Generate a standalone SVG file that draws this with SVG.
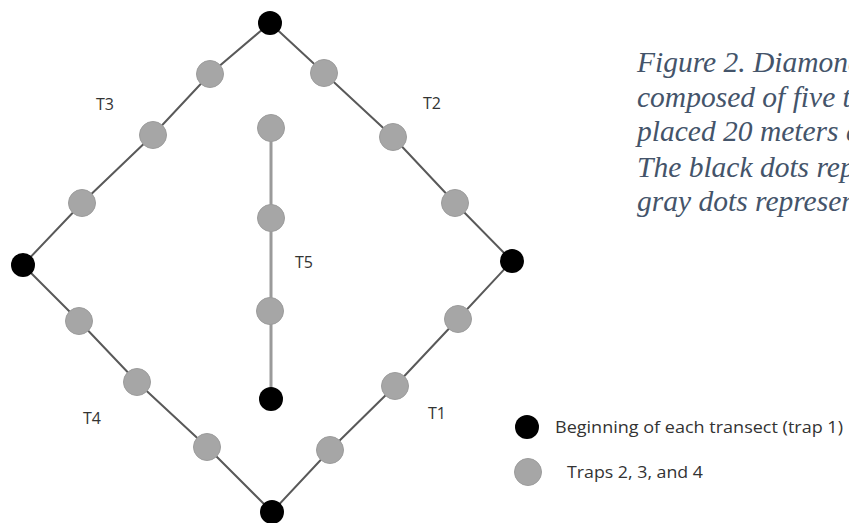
<svg xmlns="http://www.w3.org/2000/svg" width="849" height="523" viewBox="0 0 849 523">
  <style>
    .edge { stroke: #595959; stroke-width: 2; fill: none; }
    .edge5 { stroke: #9a9a9a; stroke-width: 3; fill: none; }
    .start { fill: #000000; }
    .trap { fill: #a6a6a6; stroke: #9c9c9c; stroke-width: 1; }
    .lbl { font-family: "Open Sans", "Liberation Sans", sans-serif; font-size: 16px; fill: #333333; text-anchor: middle; }
    .leg { font-family: "Open Sans", "Liberation Sans", sans-serif; font-size: 17px; fill: #333333; }
    .cap { font-family: "Liberation Serif", "Times New Roman", serif; font-style: italic; font-size: 29.5px; fill: #44546a; }
  </style>
  <rect width="849" height="523" fill="#ffffff"/>

  <!-- transect lines -->
  <g id="connectors">
    <polyline class="edge" points="23,265 82,203 153,135 210,74 270,23"/>
    <polyline class="edge" points="270,23 324,73 393,137 455,203 512,261"/>
    <polyline class="edge" points="512,261 458,319 395,386 330,450 272,512"/>
    <polyline class="edge" points="272,512 207,447 137,382 79,321 23,265"/>
    <line class="edge5" x1="271" y1="128" x2="271" y2="399"/>
  </g>

  <!-- transect 1 -->
  <g id="t1">
    <circle class="start" cx="512" cy="261" r="12"/>
    <circle class="trap" cx="458" cy="319" r="13.5"/>
    <circle class="trap" cx="395" cy="386" r="13.5"/>
    <circle class="trap" cx="330" cy="450" r="13.5"/>
    <text class="lbl" x="437" y="419">T1</text>
  </g>

  <!-- transect 2 -->
  <g id="t2">
    <circle class="start" cx="270" cy="23" r="12"/>
    <circle class="trap" cx="324" cy="73" r="13.5"/>
    <circle class="trap" cx="393" cy="137" r="13.5"/>
    <circle class="trap" cx="455" cy="203" r="13.5"/>
    <text class="lbl" x="432" y="109">T2</text>
  </g>

  <!-- transect 3 -->
  <g id="t3">
    <circle class="start" cx="23" cy="265" r="12"/>
    <circle class="trap" cx="82" cy="203" r="13.5"/>
    <circle class="trap" cx="153" cy="135" r="13.5"/>
    <circle class="trap" cx="210" cy="74" r="13.5"/>
    <text class="lbl" x="105" y="110">T3</text>
  </g>

  <!-- transect 4 -->
  <g id="t4">
    <circle class="start" cx="272" cy="512" r="12"/>
    <circle class="trap" cx="207" cy="447" r="13.5"/>
    <circle class="trap" cx="137" cy="382" r="13.5"/>
    <circle class="trap" cx="79" cy="321" r="13.5"/>
    <text class="lbl" x="92" y="424">T4</text>
  </g>

  <!-- transect 5 -->
  <g id="t5">
    <circle class="start" cx="271" cy="399" r="12"/>
    <circle class="trap" cx="270" cy="311" r="13.5"/>
    <circle class="trap" cx="271" cy="218" r="13.5"/>
    <circle class="trap" cx="271" cy="128" r="13.5"/>
    <text class="lbl" x="304" y="268">T5</text>
  </g>

  <!-- legend -->
  <g id="legend">
    <circle class="start" cx="527" cy="427" r="12"/>
    <text class="leg" x="555" y="433" textLength="288" lengthAdjust="spacingAndGlyphs">Beginning of each transect (trap 1)</text>
    <circle class="trap" cx="528" cy="472" r="13.5"/>
    <text class="leg" x="567" y="478" textLength="136" lengthAdjust="spacingAndGlyphs">Traps 2, 3, and 4</text>
  </g>

  <!-- caption, running past the right edge of the canvas -->
  <g id="caption">
    <text class="cap" x="637" y="72">Figure 2. Diamond</text>
    <text class="cap" x="637" y="107">composed of five t</text>
    <text class="cap" x="637" y="141">placed 20 meters a</text>
    <text class="cap" x="637" y="177">The black dots rep</text>
    <text class="cap" x="637" y="211">gray dots represen</text>
  </g>
</svg>
